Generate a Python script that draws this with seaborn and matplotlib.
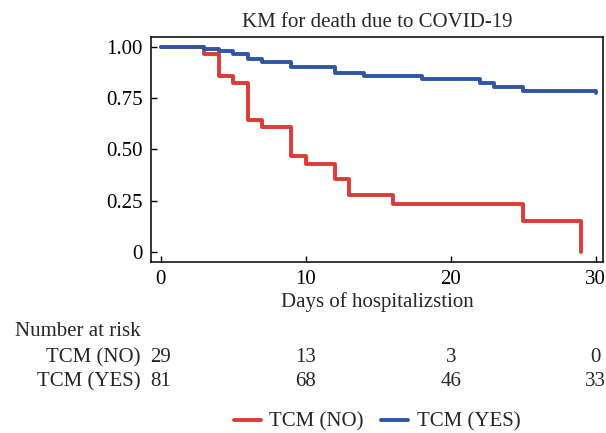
import numpy as np
import pandas as pd
import matplotlib
matplotlib.use("Agg")
import matplotlib.pyplot as plt
import matplotlib.transforms as mtransforms
import seaborn as sns

# ---- data ----
no_times = [0, 3, 4, 5, 6, 7, 9, 10, 12, 13, 16, 25, 29]
no_surv = [1.0, 0.966, 0.859, 0.823, 0.643, 0.608, 0.465, 0.429, 0.357, 0.279, 0.232, 0.151, 0.0]

yes_times = [0, 3, 4, 5, 6, 7, 9, 12, 14, 18, 22, 23, 25, 30]
yes_surv = [1.0, 0.988, 0.977, 0.964, 0.938, 0.925, 0.903, 0.872, 0.859, 0.843, 0.823, 0.804, 0.783, 0.772]

groups = ["TCM (NO)", "TCM (YES)"]
risk_days = [0, 10, 20, 30]
risk_no = [29, 13, 3, 0]
risk_yes = [81, 68, 46, 33]

x_ticks = [0, 10, 20, 30]
y_ticks = [0, 0.25, 0.5, 0.75, 1.0]
y_ticklabels = ["0", "0.25", "0.50", "0.75", "1.00"]

colors = {"TCM (NO)": "#dc3b37", "TCM (YES)": "#2f56a3"}

df = pd.concat([
    pd.DataFrame({"day": no_times, "surv": no_surv, "group": groups[0]}),
    pd.DataFrame({"day": yes_times, "surv": yes_surv, "group": groups[1]}),
])

sns.set_theme(style="ticks")
plt.rcParams["font.family"] = ["Liberation Serif", "DejaVu Serif"]
plt.rcParams["mathtext.fontset"] = "stix"

W, H = 606, 433
fig = plt.figure(figsize=(W / 100, H / 100), dpi=100)
ax = fig.add_axes([151 / W, 1 - 262 / H, (603 - 151) / W, (262 - 36.5) / H])

sns.lineplot(data=df, x="day", y="surv", hue="group", palette=colors,
             drawstyle="steps-post", linewidth=2.8, estimator=None,
             sort=False, ax=ax, legend=True)

ax.set_xlim(-0.67, 30.5)
ax.set_ylim(-0.05, 1.05)
ax.set_xticks(x_ticks)
ax.set_yticks(y_ticks)
ax.set_yticklabels(y_ticklabels)
ax.tick_params(direction="in", length=4, width=1, labelsize=15, colors="black", pad=6)
for s in ax.spines.values():
    s.set_visible(True)
    s.set_linewidth(1.1)
    s.set_color("black")
ax.set_ylabel("")
ax.set_xlabel("Days of hospitalizstion", fontsize=15, labelpad=2)
ax.set_title("KM for death due to COVID-19", fontsize=15, pad=7)

# legend at the bottom
handles, labels = ax.get_legend_handles_labels()
ax.get_legend().remove()
fig.legend(handles, labels, loc="center", bbox_to_anchor=(377 / W, 1 - 422 / H),
           ncol=2, frameon=False, fontsize=15, handlelength=1.3,
           handletextpad=0.4, columnspacing=0.85)

# number at risk table
tr = mtransforms.blended_transform_factory(ax.transData, fig.transFigure)
fig.text(15 / W, 1 - 332 / H, "Number at risk", fontsize=15, ha="left", va="center")
for label, vals, ypix in [(groups[0], risk_no, 358), (groups[1], risk_yes, 382)]:
    fig.text(141 / W, 1 - ypix / H, label, fontsize=15, ha="right", va="center")
    for d, v in zip(risk_days, vals):
        ax.text(d, 1 - ypix / H, str(v), transform=tr, fontsize=15,
                ha="center", va="center")

fig.savefig("out.png", dpi=100)
